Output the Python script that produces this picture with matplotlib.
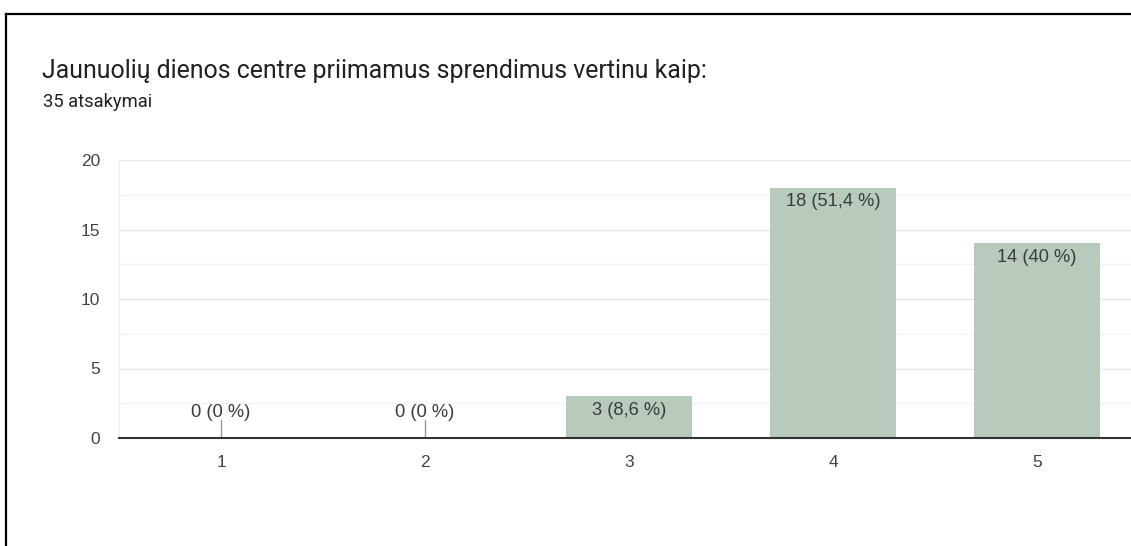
import matplotlib.pyplot as plt
from matplotlib.lines import Line2D

# data
kategorijos = ['1', '2', '3', '4', '5']
reiksmes = [0, 0, 3, 18, 14]
procentai = ['0 %', '0 %', '8,6 %', '51,4 %', '40 %']
y_ticks = [0, 5, 10, 15, 20]

title = 'Jaunuolių dienos centre priimamus sprendimus vertinu kaip:'
subtitle = '35 atsakymai'

bar_color = '#b8cabb'
text_color = '#202124'
tick_color = '#444444'
label_color = '#3c3c3c'

fig = plt.figure(figsize=(11.31, 5.46), dpi=100)
ax = fig.add_axes([119 / 1131, 108 / 546, 1 - 119 / 1131, 278 / 546])

x = list(range(1, len(kategorijos) + 1))
ax.bar(x, reiksmes, width=0.62, color=bar_color, zorder=2)

# labels
for xi, v, p in zip(x, reiksmes, procentai):
    label = '%d (%s)' % (v, p)
    if v == 0:
        ax.plot([xi, xi], [0, 1.3], color='#999999', lw=1, zorder=3)
        ax.text(xi, 1.8, label, ha='center', va='center', fontsize=13.2,
                color=label_color, family='Liberation Sans')
    else:
        ax.text(xi, v - 1.0, label, ha='center', va='center', fontsize=13.2,
                color=label_color, family='Liberation Sans', zorder=4)

ax.set_xlim(0.5, 0.5 + (1131 - 119) / 204)
ax.set_ylim(0, 20)
ax.set_xticks(x)
ax.set_xticklabels(kategorijos)
ax.set_yticks(y_ticks)
ax.set_yticks([2.5, 7.5, 12.5, 17.5], minor=True)
ax.tick_params(axis='both', length=0, labelsize=12.5, labelcolor=tick_color)
ax.tick_params(axis='y', pad=13.7, which='major')
ax.tick_params(axis='x', pad=12)
ax.tick_params(which='minor', length=0)
for lbl in ax.get_xticklabels() + ax.get_yticklabels():
    lbl.set_family('Liberation Sans')

ax.grid(axis='y', which='major', color='#e8e8e8', lw=1, zorder=0)
ax.grid(axis='y', which='minor', color='#f3f3f3', lw=1, zorder=0)
ax.set_axisbelow(True)

for s in ['top', 'right']:
    ax.spines[s].set_visible(False)
ax.spines['left'].set_color('#eeeeee')
ax.spines['bottom'].set_color('#333333')
ax.spines['bottom'].set_linewidth(1.5)
ax.spines['bottom'].set_zorder(5)

fig.text(42 / 1131, 1 - 71 / 546, title, fontsize=17.9, color=text_color,
         family='Roboto', va='center', ha='left')
fig.text(43 / 1131, 1 - 102 / 546, subtitle, fontsize=13.2, color=text_color,
         family='Roboto', va='center', ha='left')

# border (top and left)
fig.add_artist(Line2D([5.5 / 1131, 1], [1 - 13.5 / 546, 1 - 13.5 / 546],
                      color='black', lw=1.6, transform=fig.transFigure))
fig.add_artist(Line2D([5.5 / 1131, 5.5 / 1131], [0, 1 - 13.5 / 546],
                      color='black', lw=1.6, transform=fig.transFigure))

fig.savefig('out.png', dpi=100)
